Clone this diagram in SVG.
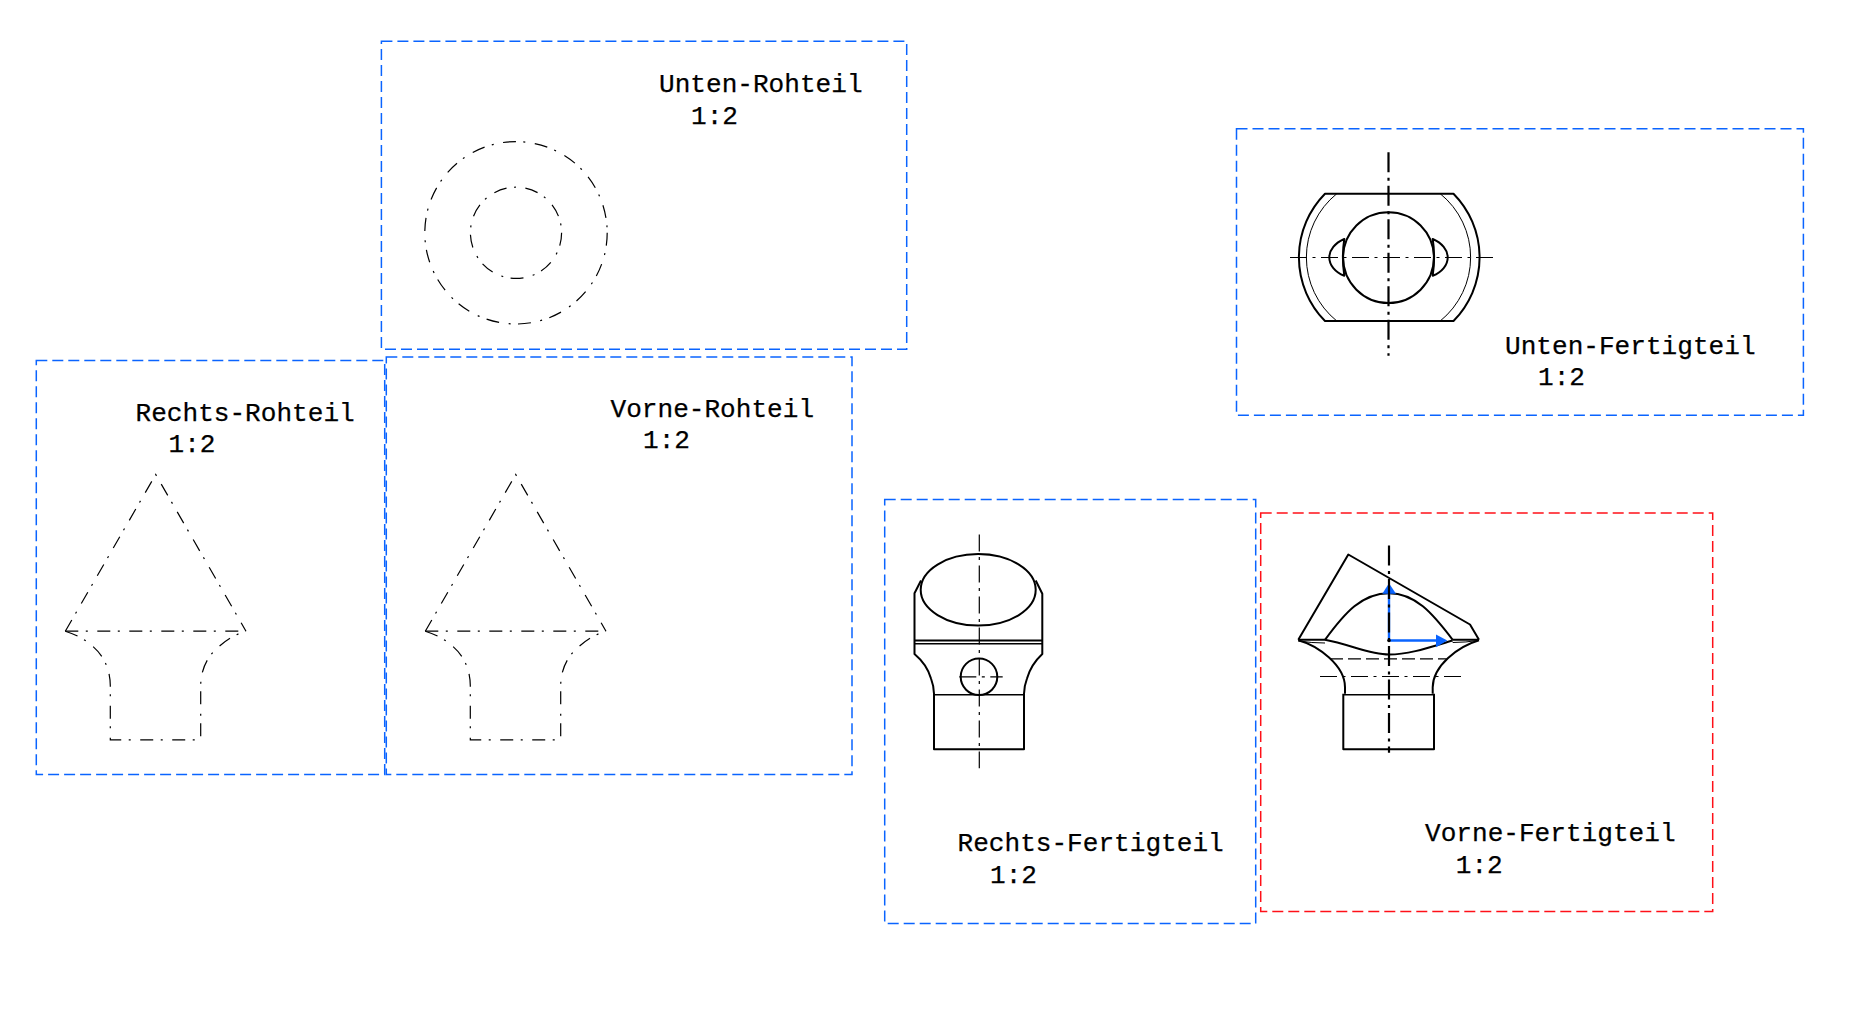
<svg xmlns="http://www.w3.org/2000/svg" width="1852" height="1018" viewBox="0 0 1852 1018">
<defs>
<style>
.bg{fill:#fff}
.fr{fill:none;stroke:#0a64ff;stroke-width:1.5;stroke-dasharray:11 5}
.fr.act{stroke:#ff1018}
.t{font-family:"Liberation Mono",monospace;font-size:26.1px;fill:#000;stroke:#000;stroke-width:.25}
.dd{fill:none;stroke:#000;stroke-width:1.2;stroke-dasharray:13 7.5 2 9.5}
.th{fill:none;stroke:#000;stroke-width:2;stroke-linejoin:round}
.md{fill:none;stroke:#000;stroke-width:1.4}
.tn{fill:none;stroke:#000;stroke-width:1}
.ax{fill:none;stroke:#000;stroke-width:1.2;stroke-dasharray:17 5.5 3 5.5}
.ax2{fill:none;stroke:#000;stroke-width:2.2;stroke-dasharray:20 5.5 3 5}
.hd{fill:none;stroke:#000;stroke-width:1.2;stroke-dasharray:13 5}
.bl{fill:none;stroke:#0a64ff;stroke-width:2.4}
.ah{fill:#0a64ff}
</style>
<g id="roh">
<path class="dd" d="M65.3 630.7L155.7 474L246 630.7"/>
<path class="dd" d="M65.3 630.7H246"/>
<path class="dd" d="M65.3 630.7Q82 636 93 646Q110 661 110.3 685V739.3H200.7V685Q201 661 219 646Q231 635 246 630.7"/>
</g>
</defs>
<rect class="bg" width="1852" height="1018"/>

<g id="unten-rohteil">
<rect class="fr" x="381.4" y="41.3" width="525.3" height="308"/>
<circle class="dd" cx="516" cy="232.8" r="91.2"/>
<circle class="dd" cx="516" cy="232.8" r="45.6"/>
<text class="t" x="659" y="92.3">Unten-Rohteil</text>
<text class="t" x="691" y="124">1:2</text>
</g>

<g id="rechts-rohteil" transform="translate(0 .5)">
<rect class="fr" x="36.3" y="360" width="348.4" height="414"/>
<use href="#roh"/>
<text class="t" x="135.5" y="420">Rechts-Rohteil</text>
<text class="t" x="168.5" y="451.3">1:2</text>
</g>

<g id="vorne-rohteil" transform="translate(0 .5)">
<rect class="fr" x="386.3" y="356.4" width="465.7" height="417.6"/>
<use href="#roh" x="360"/>
<text class="t" x="610.5" y="416">Vorne-Rohteil</text>
<text class="t" x="643" y="447">1:2</text>
</g>

<g id="unten-fertigteil">
<rect class="fr" x="1236.5" y="128.7" width="566.9" height="286.6"/>
<path class="th" d="M1325 193.7H1453.5A90.7 90.7 0 0 1 1453.5 321H1325A90.7 90.7 0 0 1 1325 193.7Z"/>
<path class="tn" d="M1336.8 193.7A81.8 81.8 0 0 0 1336.8 321M1440.2 193.7A81.8 81.8 0 0 1 1440.2 321"/>
<circle class="th" cx="1388.5" cy="257.6" r="45.4"/>
<path class="th" d="M1344.3 239C1335 243 1329.3 250 1329.3 257.4C1329.3 265 1335 272 1344.3 275.7Q1341.5 257.4 1344.3 239Z"/>
<path class="th" d="M1432.7 239C1442 243 1447.7 250 1447.7 257.4C1447.7 265 1442 272 1432.7 275.7Q1435.5 257.4 1432.7 239Z"/>
<path class="ax2" d="M1388.5 152.3V355.7"/>
<path class="ax" d="M1290 257.5H1494.5"/>
<text class="t" x="1505" y="354">Unten-Fertigteil</text>
<text class="t" x="1538" y="385">1:2</text>
</g>

<g id="rechts-fertigteil" transform="translate(0 .5)">
<rect class="fr" x="884.7" y="499" width="371" height="424"/>
<ellipse class="th" cx="978.2" cy="589.3" rx="57.5" ry="35.7"/>
<path class="th" d="M921 580L914.5 592.7V653.5Q927 664 931 678Q934 686 934 693.3V748.7H1024V693.3Q1024 686 1027 678Q1031 664 1042.3 653.5V593.3L1035.7 580"/>
<path class="th" d="M914.5 640H1042.3"/>
<path class="md" d="M914.5 643.3H1042.3M934 694.3H1024"/>
<circle class="th" cx="979" cy="676.3" r="18.3"/>
<path class="ax" d="M979.3 534V767.7"/>
<path class="ax" d="M959.3 676.3H1002.7"/>
<text class="t" x="957.5" y="850.7">Rechts-Fertigteil</text>
<text class="t" x="990" y="882">1:2</text>
</g>

<g id="vorne-fertigteil" transform="translate(0 .5)">
<rect class="fr act" x="1260.7" y="512.4" width="452" height="398.6"/>
<path class="th" d="M1298.3 639.3L1348.3 554L1470 624L1479 639.3"/>
<path class="th" d="M1298.3 639.3H1325M1452.7 639.3H1479"/>
<path class="tn" d="M1298.3 640.5Q1312 642.5 1325 642.5M1452.7 642Q1466 642 1479 639.8"/>
<path class="th" d="M1325 639.3C1345 612 1362 592.7 1389 592.7C1415 592.7 1432 612 1452.7 639.3"/>
<path class="th" d="M1325 639.3C1350 644 1370 654 1389 654C1410 654 1432 646 1452.7 640"/>
<path class="th" d="M1298.3 639.7C1318 645 1345 665 1345 686.7V693.3M1479 639.7C1458 646 1433 665 1432.7 686.7V693.3"/>
<path class="th" d="M1343.3 693.3V748.7H1434V693.3"/>
<path class="md" d="M1343.3 694.3H1434"/>
<path class="hd" d="M1330 658.3H1446.7"/>
<path class="ax" d="M1320 676H1461.7"/>
<path class="bl" d="M1389 640V590M1389 640H1440"/>
<path class="ah" d="M1389 582.7L1396 593.3H1382.3Z"/>
<path class="ah" d="M1447.3 640L1436 634V646.7Z"/>
<path class="ax2" d="M1389 545V752.3"/>
<circle cx="1389" cy="640" r="1.8"/>
<text class="t" x="1425" y="840.7">Vorne-Fertigteil</text>
<text class="t" x="1455.8" y="872">1:2</text>
</g>
</svg>
